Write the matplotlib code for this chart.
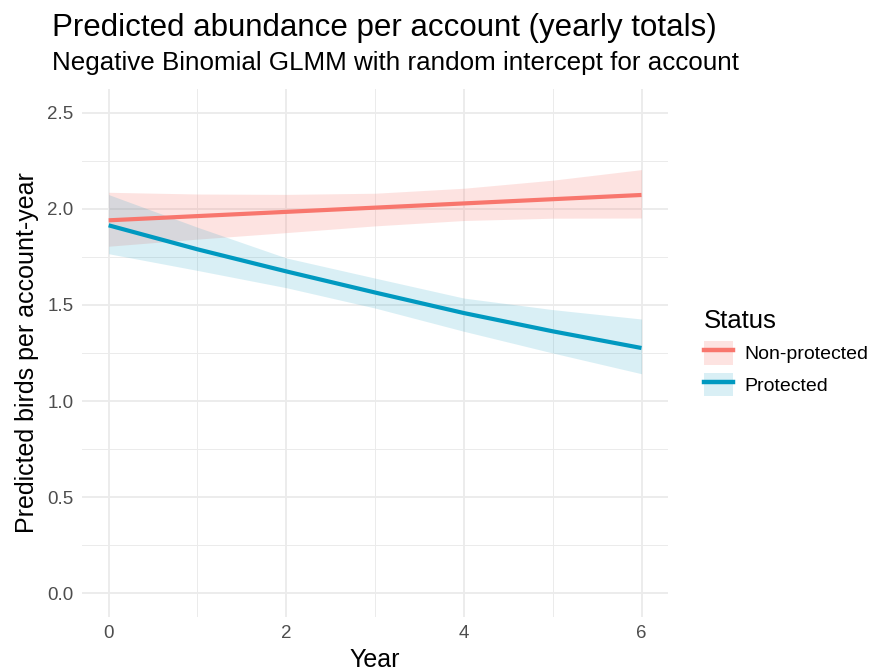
import numpy as np
import matplotlib.pyplot as plt
from matplotlib.ticker import MultipleLocator
from matplotlib.patches import Patch
from matplotlib.lines import Line2D
from matplotlib.legend_handler import HandlerTuple

plt.rcParams['font.family'] = ['Liberation Sans', 'DejaVu Sans']

# data
years = [0, 1, 2, 3, 4, 5, 6]
nonprot_fit = [1.941, 1.963, 1.985, 2.007, 2.029, 2.051, 2.073]
nonprot_lo = [1.806, 1.843, 1.877, 1.912, 1.940, 1.952, 1.953]
nonprot_hi = [2.087, 2.078, 2.076, 2.082, 2.108, 2.150, 2.205]
prot_fit = [1.915, 1.790, 1.675, 1.565, 1.458, 1.363, 1.276]
prot_lo = [1.767, 1.680, 1.590, 1.484, 1.363, 1.250, 1.142]
prot_hi = [2.075, 1.905, 1.745, 1.640, 1.536, 1.476, 1.427]

status = ['Non-protected', 'Protected']
colors = ['#F8766D', '#0099C0']

fig = plt.figure(figsize=(8.78, 6.72), dpi=100)
ax = fig.add_axes([0.0934, 0.0818, 0.6676, 0.7858])

series = [(nonprot_fit, nonprot_lo, nonprot_hi), (prot_fit, prot_lo, prot_hi)]
alphas = [0.2, 0.15]
for (fit, lo, hi), col, a in zip(series, colors, alphas):
    ax.fill_between(years, lo, hi, color=col, alpha=a, lw=0, zorder=2)
for (fit, lo, hi), col in zip(series, colors):
    ax.plot(years, fit, color=col, lw=3, solid_capstyle='butt', zorder=3)

ax.set_xlim(-0.3, 6.3)
ax.set_ylim(-0.125, 2.625)
ax.xaxis.set_major_locator(MultipleLocator(2))
ax.xaxis.set_minor_locator(MultipleLocator(1))
ax.yaxis.set_major_locator(MultipleLocator(0.5))
ax.yaxis.set_minor_locator(MultipleLocator(0.25))
ax.yaxis.set_major_formatter(lambda v, p: f'{v:.1f}')
ax.grid(which='major', color='#EBEBEB', lw=1.3, zorder=0)
ax.grid(which='minor', color='#EBEBEB', lw=0.7, zorder=0)
ax.set_axisbelow(True)
for s in ax.spines.values():
    s.set_visible(False)
ax.tick_params(which='both', length=0, labelsize=13.5, labelcolor='#4D4D4D', pad=6)

ax.set_xlabel('Year', fontsize=18, labelpad=4)
ax.set_ylabel('Predicted birds per account-year', fontsize=18, labelpad=6)

fig.text(0.059, 0.958, 'Predicted abundance per account (yearly totals)', fontsize=22.5, va='center')
fig.text(0.059, 0.906, 'Negative Binomial GLMM with random intercept for account', fontsize=18.7, va='center')

handles = []
for col, a in zip(colors, alphas):
    handles.append((Patch(facecolor=col, alpha=a, lw=0), Line2D([], [], color=col, lw=3.2)))
leg = fig.legend(handles, status, title='Status', loc='center left',
                 bbox_to_anchor=(0.786, 0.475), frameon=False, fontsize=14,
                 title_fontsize=18.5, handlelength=1.5, handleheight=1.5,
                 handletextpad=0.6, labelspacing=0.4, borderpad=0.2,
                 handler_map={tuple: HandlerTuple(ndivide=1, pad=0)})
leg._legend_box.align = 'left'

fig.savefig('out.png', dpi=100)
